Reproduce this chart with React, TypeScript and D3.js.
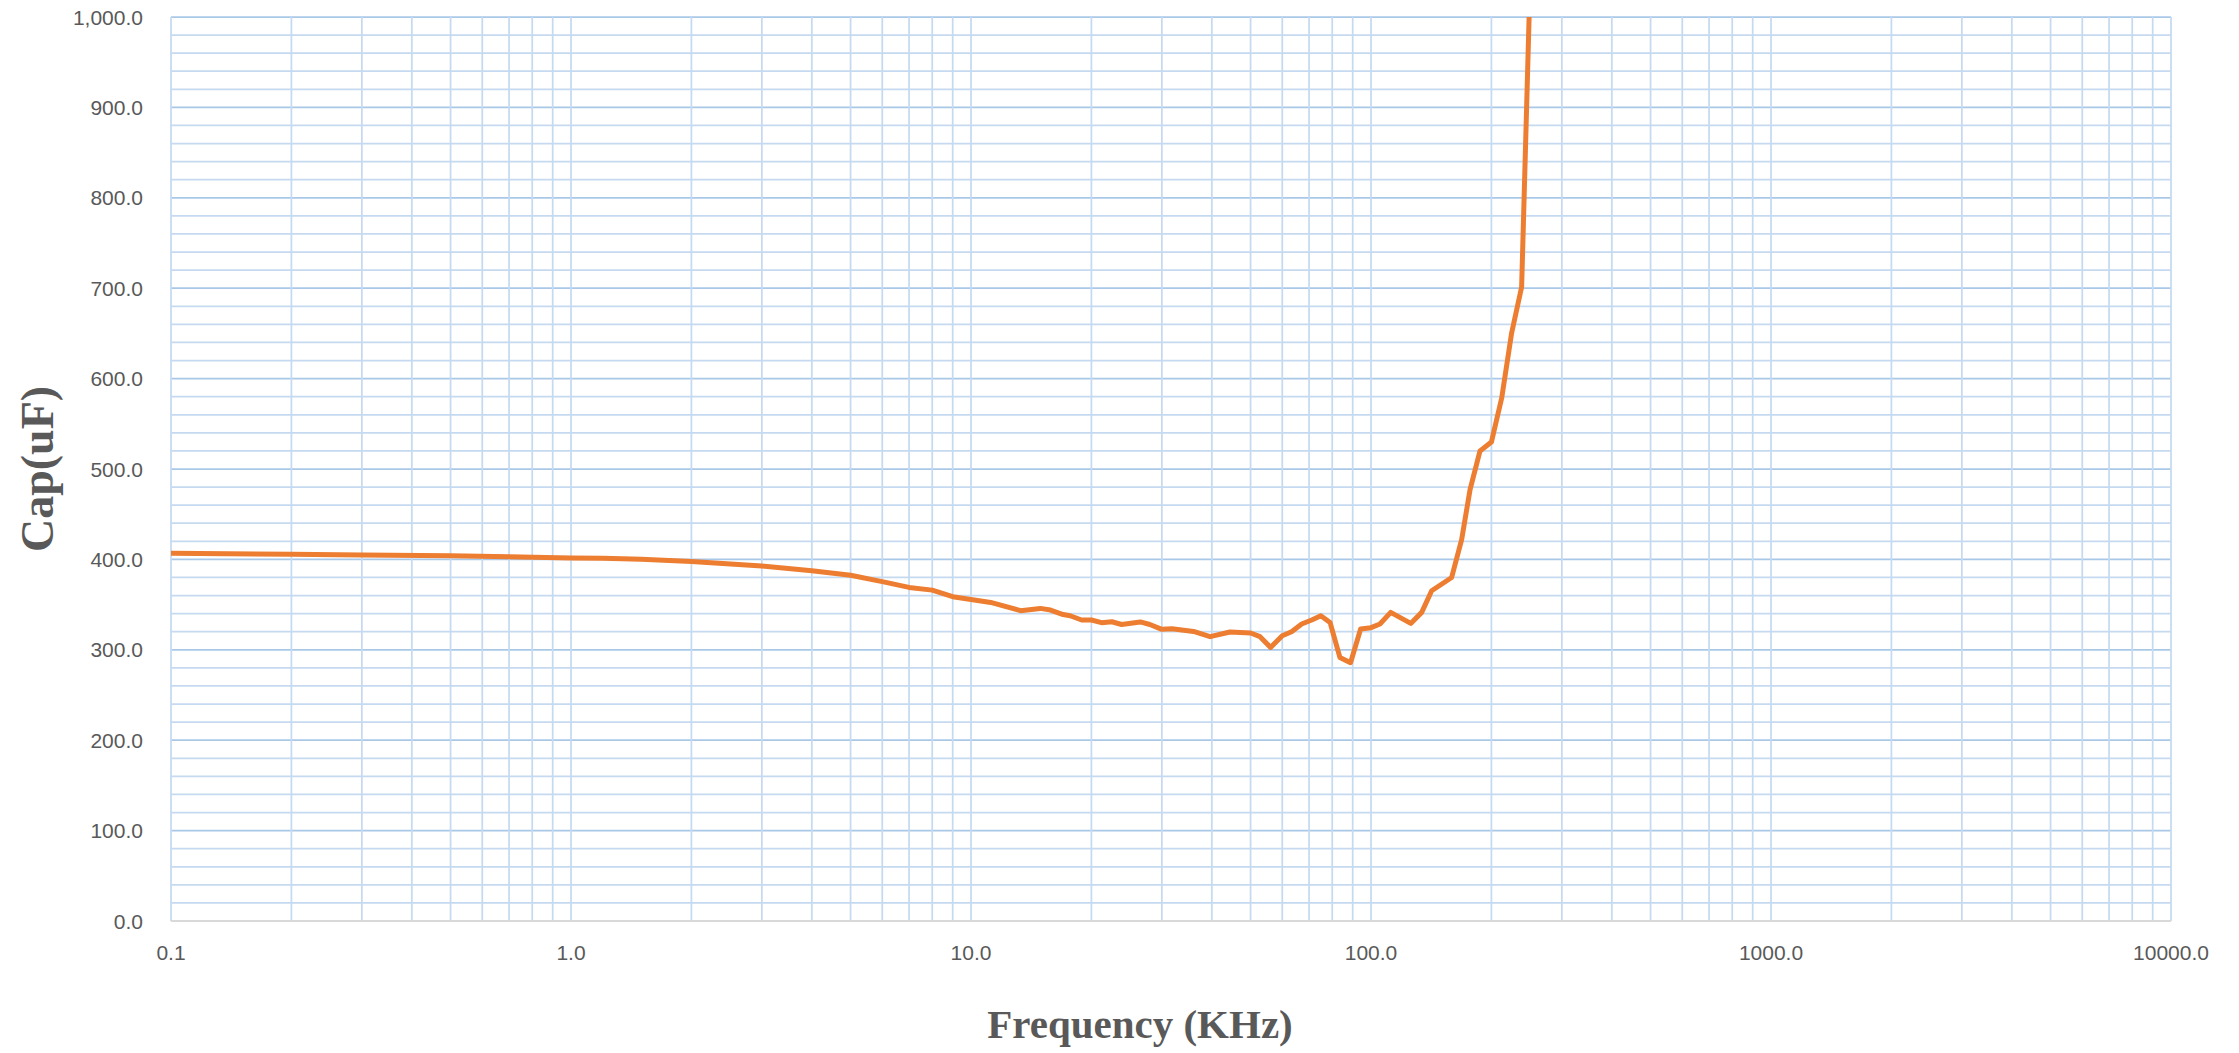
import * as d3 from "d3";

// frequency in KHz, capacitance in uF
const freqs = [
  0.1, 0.2, 0.3, 0.5, 0.7, 1.0, 1.2, 1.5, 2.0, 3.0, 4.0, 5.0, 6.0, 7.0, 8.0,
  9.0, 10, 11.2, 13.3, 14.9, 15.8, 17.0, 17.7, 18.9, 20, 21.2, 22.5, 23.8,
  26.5, 28, 30, 31.8, 36, 39.6, 44.4, 50, 52.8, 56.1, 60, 63.3, 67.1, 71.1,
  74.9, 79, 83.6, 88.9, 94.2, 100, 105.3, 112, 125.7, 133.9, 141.8, 159.1,
  168.5, 176.8, 187.3, 200, 212.2, 224.7, 238, 251,
];
const caps = [
  406.7, 405.8, 404.9, 404.0, 403.0, 401.5, 401.4, 400.2, 397.6, 392.7, 387.5,
  382.4, 375.4, 369.0, 366.0, 358.7, 355.7, 352.4, 343.3, 345.8, 344.0, 339.0,
  337.7, 333.0, 333.0, 330.0, 331.0, 328.0, 330.8, 328.0, 322.6, 323.3, 320.3,
  314.5, 319.7, 318.6, 314.5, 302.6, 315.5, 320.0, 328.5, 333.0, 337.7, 330.3,
  291.6, 285.7, 323.0, 324.5, 328.5, 341.4, 329.2, 341.4, 365.3, 380.0, 421.8,
  476.8, 520.0, 529.8, 578.5, 650.5, 701.3, 1070,
];

const xTicks = [0.1, 1, 10, 100, 1000, 10000];
const yTicks = [0, 100, 200, 300, 400, 500, 600, 700, 800, 900, 1000];

const W = 2239;
const H = 1053;
const LEFT = 171;
const RIGHT = 2171;
const TOP = 17;
const BOTTOM = 921;

const GRID = "#c5daf0";
const GRID_MAJOR = "#a9c8e8";
const TEXT = "#595959";

export default function App() {
  const x = d3.scaleLog().domain([0.1, 10000]).range([LEFT, RIGHT]);
  const y = d3.scaleLinear().domain([0, 1000]).range([BOTTOM, TOP]);

  const points = freqs.map((f, i) => [f, caps[i]] as [number, number]);
  const line = d3
    .line<[number, number]>()
    .x((d) => x(d[0]))
    .y((d) => y(d[1]));

  // vertical grid at 1..9 of every decade
  const vLines: number[] = [];
  xTicks.slice(0, -1).forEach((d) => {
    for (let k = 1; k <= 9; k++) vLines.push(d * k);
  });
  vLines.push(10000);

  const hLines = d3.range(0, 1001, 20);
  const fmtY = d3.format(",.1f");
  const fmtX = d3.format(".1f");

  return (
    <svg
      width={W}
      height={H}
      style={{ position: "absolute", left: 0, top: 0, background: "#fff" }}
    >
      <defs>
        <clipPath id="plot">
          <rect x={LEFT} y={TOP} width={RIGHT - LEFT} height={BOTTOM - TOP} />
        </clipPath>
      </defs>

      {hLines.map((v) => (
        <line
          key={"h" + v}
          x1={LEFT}
          x2={RIGHT}
          y1={y(v)}
          y2={y(v)}
          stroke={v % 100 === 0 ? GRID_MAJOR : GRID}
          strokeWidth={1.75}
        />
      ))}
      {vLines.map((v) => (
        <line
          key={"v" + v}
          x1={x(v)}
          x2={x(v)}
          y1={TOP}
          y2={BOTTOM}
          stroke={GRID}
          strokeWidth={1.75}
        />
      ))}
      <line
        x1={LEFT}
        x2={RIGHT}
        y1={BOTTOM}
        y2={BOTTOM}
        stroke="#d9d9d9"
        strokeWidth={2}
      />

      <path
        d={line(points) ?? ""}
        fill="none"
        stroke="#ed7d31"
        strokeWidth={5}
        strokeLinejoin="round"
        clipPath="url(#plot)"
      />

      <g fontFamily="'Liberation Sans', Arial, sans-serif" fontSize={21} fill={TEXT}>
        {yTicks.map((t) => (
          <text key={"yt" + t} x={143} y={y(t) + 7.5} textAnchor="end">
            {fmtY(t)}
          </text>
        ))}
        {xTicks.map((t) => (
          <text key={"xt" + t} x={x(t)} y={960} textAnchor="middle">
            {fmtX(t)}
          </text>
        ))}
      </g>

      <text
        x={1140}
        y={1038}
        textAnchor="middle"
        fontFamily="'Liberation Serif', 'Times New Roman', serif"
        fontWeight="bold"
        fontSize={41}
        fill={TEXT}
      >
        Frequency (KHz)
      </text>
      <text
        transform={`translate(53, ${(TOP + BOTTOM) / 2}) rotate(-90)`}
        textAnchor="middle"
        fontFamily="'Liberation Serif', 'Times New Roman', serif"
        fontWeight="bold"
        fontSize={46}
        fill={TEXT}
      >
        Cap(uF)
      </text>
    </svg>
  );
}
